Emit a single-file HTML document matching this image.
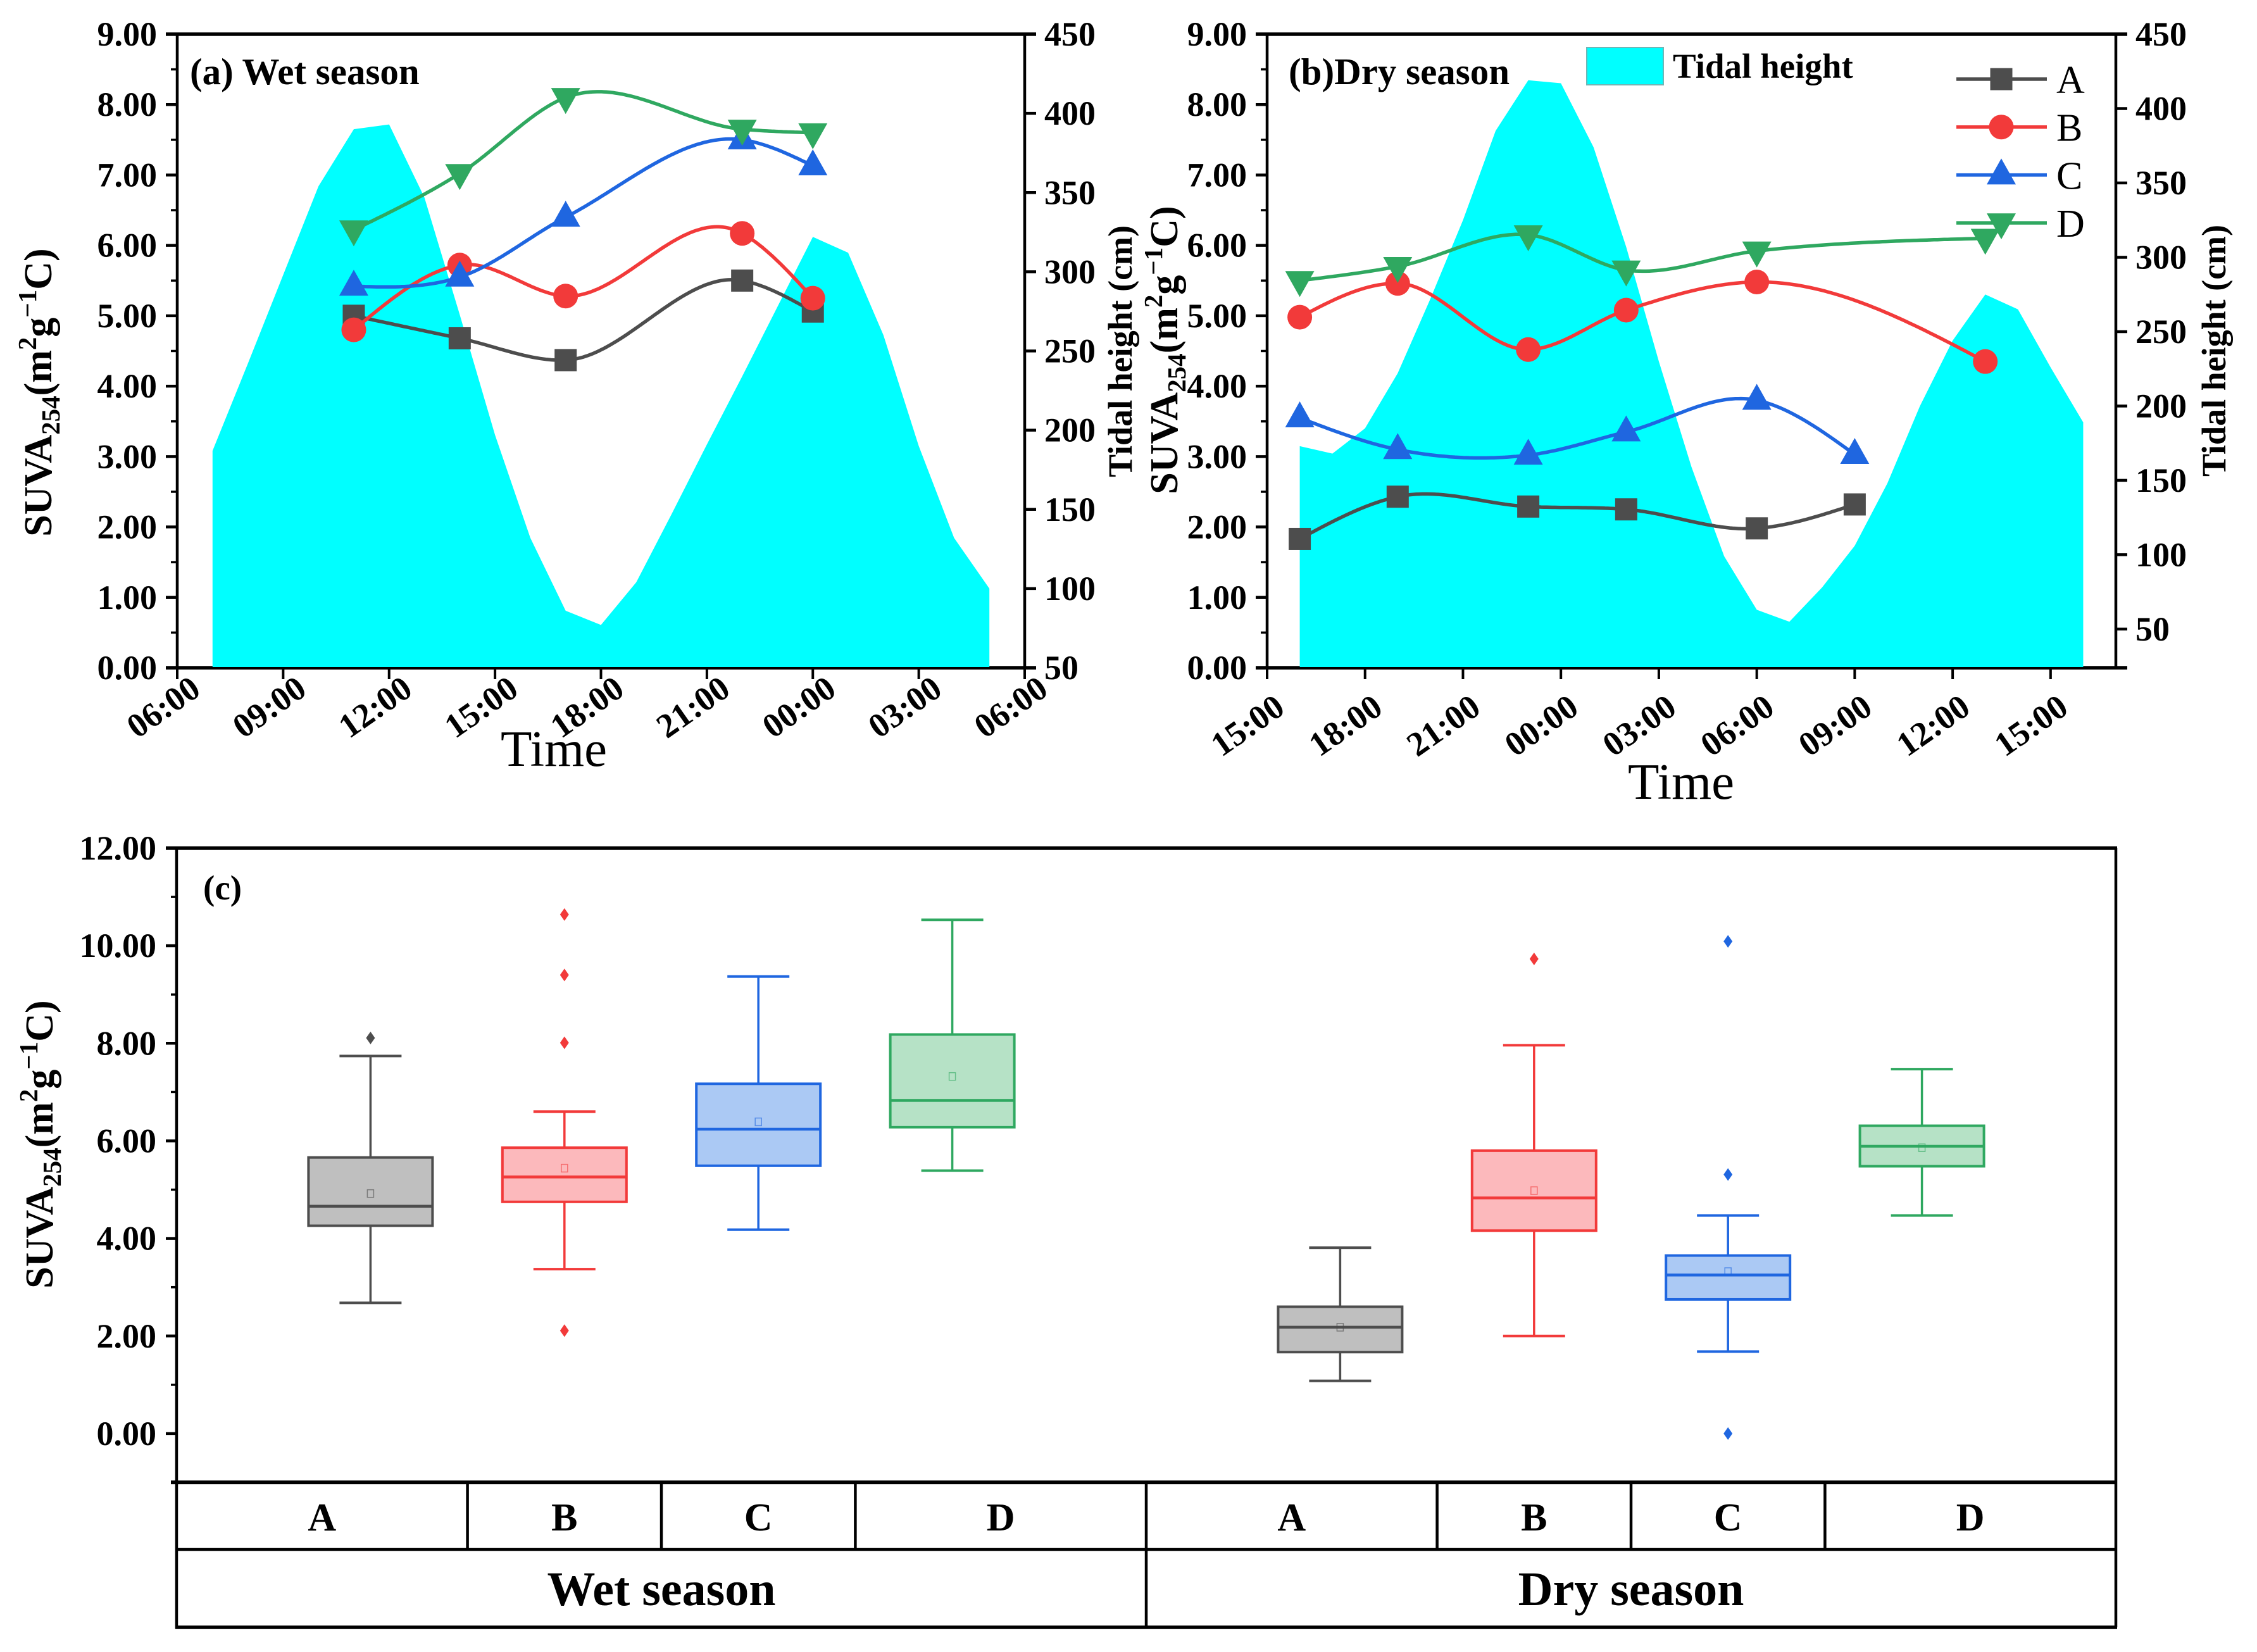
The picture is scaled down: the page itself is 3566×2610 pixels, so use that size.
<!DOCTYPE html>
<html lang="en">
<head>
<meta charset="utf-8">
<title>SUVA254 wet and dry season chart</title>
<style>
html,body{margin:0;padding:0;background:#fff;}
svg{display:block;}
text{font-family:"Liberation Serif",serif;fill:#000;}
.b{font-weight:bold;}
</style>
</head>
<body>
<svg id="fig" xmlns="http://www.w3.org/2000/svg" width="3566" height="2610" viewBox="0 0 3566 2610">
<rect x="0" y="0" width="3566" height="2610" fill="#fff"/>
<g id="panelA"></g>
<g id="panelB"></g>
<g id="panelC"></g>
<g id="labels">
<text class="b" x="300" y="133" font-size="59">(a) Wet season</text>
<text class="b" x="2036" y="133" font-size="59">(b)Dry season</text>
<text class="b" x="321" y="1421" font-size="55">(c)</text>
<text x="875" y="1210" font-size="81" text-anchor="middle">Time</text>
<text x="2656" y="1262" font-size="81" text-anchor="middle">Time</text>
<text class="b" font-size="62" text-anchor="middle" transform="translate(81,620) rotate(-90)">SUVA<tspan font-size="41" dy="13">254</tspan><tspan dy="-13">(m</tspan><tspan font-size="41" dy="-24">2</tspan><tspan dy="24">g</tspan><tspan font-size="41" dy="-24">−1</tspan><tspan dy="24">C)</tspan></text>
<text class="b" font-size="62" text-anchor="middle" transform="translate(1860,553) rotate(-90)">SUVA<tspan font-size="41" dy="13">254</tspan><tspan dy="-13">(m</tspan><tspan font-size="41" dy="-24">2</tspan><tspan dy="24">g</tspan><tspan font-size="41" dy="-24">−1</tspan><tspan dy="24">C)</tspan></text>
<text class="b" font-size="62" text-anchor="middle" transform="translate(83,1808) rotate(-90)">SUVA<tspan font-size="41" dy="13">254</tspan><tspan dy="-13">(m</tspan><tspan font-size="41" dy="-24">2</tspan><tspan dy="24">g</tspan><tspan font-size="41" dy="-24">−1</tspan><tspan dy="24">C)</tspan></text>
<text class="b" font-size="54" text-anchor="middle" transform="translate(1788,555) rotate(-90)">Tidal height (cm)</text>
<text class="b" font-size="54" text-anchor="middle" transform="translate(3516,554) rotate(-90)">Tidal height (cm)</text>
<rect x="2507" y="75" width="121" height="59" fill="#00ffff" stroke="#6fb6b6" stroke-width="2"/>
<text class="b" x="2643" y="123" font-size="55">Tidal height</text>
</g>
</svg>
<script>
// ---------- Panel (a) wet season data ----------
const wetTideHours = [7,8,9,10,11,12,13,14,15,16,17,18,19,20,21,22,23,24,25,26,27,28,29];
const wetTideCm = [187,242,298,354,390,393,347,273,197,132,86,77,104,147,191,234,278,322,312,260,190,132,100];
const wetHours = [11,14,17,22,24];
const wetA = [5.0,4.68,4.37,5.5,5.06];
const wetB = [4.8,5.72,5.28,6.17,5.25];
const wetC = [5.42,5.55,6.4,7.5,7.13];
const wetD = [6.22,7.02,8.1,7.65,7.6];
const wetXTicks = ["06:00","09:00","12:00","15:00","18:00","21:00","00:00","03:00","06:00"];
const wetRightTicks = ["50","100","150","200","250","300","350","400","450"];

// ---------- Panel (b) dry season data ----------
const dryTideHours = [16,17,18,19,20,21,22,23,24,25,26,27,28,29,30,31,32,33,34,35,36,37,38,39,40];
const dryTideCm = [173,168,185,222,272,325,385,419,417,374,307,230,159,99,63,55,78,106,148,200,244,275,265,226,189];
const dryHoursAC = [16,19,23,26,30,33];
const dryHoursBD = [16,19,23,26,30,37];
const dryA = [1.83,2.43,2.29,2.25,1.98,2.32];
const dryB = [4.98,5.46,4.52,5.08,5.48,4.35];
const dryC = [3.55,3.1,3.02,3.35,3.8,3.03];
const dryD = [5.5,5.7,6.15,5.65,5.92,6.1];
const dryXTicks = ["15:00","18:00","21:00","00:00","03:00","06:00","09:00","12:00","15:00"];
const dryRightTicks = ["50","100","150","200","250","300","350","400","450"];

const leftTicks = ["0.00","1.00","2.00","3.00","4.00","5.00","6.00","7.00","8.00","9.00"];

// ---------- Panel (c) box plot data ----------
const boxCategories = ["A","B","C","D","A","B","C","D"];
const boxPositions = [1,2,3,4,6,7,8,9];
const whiskerHigh = [7.74,6.6,9.37,10.53,3.81,7.96,4.47,7.47];
const boxQ3 = [5.66,5.86,7.17,8.18,2.6,5.8,3.65,6.31];
const boxMedian = [4.66,5.26,6.24,6.83,2.18,4.83,3.25,5.89];
const boxQ1 = [4.26,4.75,5.49,6.28,1.67,4.16,2.75,5.48];
const whiskerLow = [2.68,3.37,4.18,5.39,1.08,2.0,1.68,4.47];
const boxMean = [4.92,5.44,6.39,7.32,2.18,4.98,3.32,5.86];
const boxOutliers = [[8.11],[10.64,9.4,8.01,2.11],[],[],[],[9.73],[10.09,5.31,0.0],[]];
const boxYTicks = ["0.00","2.00","4.00","6.00","8.00","10.00","12.00"];

const seriesColors = ["#4d4d4d","#f23a3a","#1f66e0","#2fa860"];
const boxFills = ["#bfbfbf","#fcb9bc","#abc9f4","#b6e2c6"];
const seriesNames = ["A","B","C","D"];

const NS = "http://www.w3.org/2000/svg";
function make(tag, parent, attrs){
  const el = document.createElementNS(NS, tag);
  for (const k in attrs) el.setAttribute(k, attrs[k]);
  parent.appendChild(el);
  return el;
}
// smooth curve through the knots using three-point parabolic tangents
function smoothCurve(xs, ys){
  const n = xs.length, s = [], t = new Array(n);
  for (let i = 0; i < n-1; i++) s.push((ys[i+1]-ys[i])/(xs[i+1]-xs[i]));
  for (let i = 1; i < n-1; i++){
    const h0 = xs[i]-xs[i-1], h1 = xs[i+1]-xs[i];
    t[i] = (h1*s[i-1]+h0*s[i])/(h0+h1);
  }
  t[0] = (3*s[0]-t[1])/2;
  t[n-1] = (3*s[n-2]-t[n-2])/2;
  return function(x){
    let i = 0;
    while (i < n-2 && x > xs[i+1]) i++;
    const h = xs[i+1]-xs[i], u = (x-xs[i])/h;
    const u2 = u*u, u3 = u2*u;
    return (2*u3-3*u2+1)*ys[i]+(u3-2*u2+u)*h*t[i]+(-2*u3+3*u2)*ys[i+1]+(u3-u2)*h*t[i+1];
  };
}
function drawMarker(parent, kind, cx, cy, color){
  let el;
  if (kind === 0) el = make("rect", parent, {x:cx-17.5,y:cy-17.5,width:35,height:35,fill:color});
  else if (kind === 1) el = make("circle", parent, {cx:cx,cy:cy,r:19.5,fill:color});
  else if (kind === 2) el = make("polygon", parent, {points:(cx-23)+","+(cy+15)+" "+(cx+23)+","+(cy+15)+" "+cx+","+(cy-26),fill:color});
  else el = make("polygon", parent, {points:(cx-23)+","+(cy-15)+" "+(cx+23)+","+(cy-15)+" "+cx+","+(cy+26),fill:color});
  
  
  return el;
}
function drawLinePanel(parent, cfg){
  const L = cfg.left, R = cfg.right, T = 54, B = 1055;
  const x = h => L + (h - cfg.h0) * (R - L) / cfg.hSpan;
  const yLeft = v => B - v * (B - T) / 9;
  const yRight = v => B - (v - cfg.rMin) * (B - T) / (450 - cfg.rMin);

  // left axis ticks and labels
  leftTicks.forEach((lab, i) => {
    const v = parseFloat(lab);
    const tk = make("line", parent, {x1:L-18,x2:L,y1:yLeft(v),y2:yLeft(v),stroke:"#000","stroke-width":4.5});
    
    
    if (i < leftTicks.length-1){
      const mt = make("line", parent, {x1:L-10,x2:L,y1:yLeft(v+0.5),y2:yLeft(v+0.5),stroke:"#000","stroke-width":3.5});
      
      
    }
    const t = make("text", parent, {x:L-32,y:yLeft(v)+18,"font-size":54,"text-anchor":"end","class":"b"});
    t.textContent = lab;
    
    
  });
  // right axis ticks and labels
  cfg.rightTicks.forEach(lab => {
    const v = parseFloat(lab);
    const tk = make("line", parent, {x1:R,x2:R+18,y1:yRight(v),y2:yRight(v),stroke:"#000","stroke-width":4.5});
    
    
    const t = make("text", parent, {x:R+31,y:yRight(v)+18,"font-size":54,"class":"b"});
    t.textContent = lab;
    
    
  });
  // x axis ticks and labels
  cfg.xTicks.forEach((lab, i) => {
    const px = x(cfg.h0 + i*3);
    const tk = make("line", parent, {x1:px,x2:px,y1:B,y2:B+18,stroke:"#000","stroke-width":4});
    
    
    const cx = px + cfg.lx, cy = B + cfg.ly;
    const t = make("text", parent, {x:cx,y:cy+18,"font-size":54,"text-anchor":"middle","class":"b",transform:"rotate(-35 "+cx+" "+cy+")"});
    t.textContent = lab;
    
    
  });
  // axis frame
  const bottom = make("line", parent, {x1:L-18,x2:R+18,y1:B,y2:B,stroke:"#000","stroke-width":5.5});
  
  
  const top = make("line", parent, {x1:L-18,x2:R+18,y1:T,y2:T,stroke:"#000","stroke-width":5.5});
  
  
  const la = make("line", parent, {x1:L,x2:L,y1:T,y2:B,stroke:"#000","stroke-width":4.5});
  
  
  const ra = make("line", parent, {x1:R,x2:R,y1:T,y2:B,stroke:"#000","stroke-width":4.5});
  
  

  // tide area
  let d = "M" + x(cfg.tideHours[0]) + " " + (B-1);
  cfg.tideHours.forEach((h, i) => { d += "L" + x(h).toFixed(1) + " " + yRight(cfg.tideCm[i]).toFixed(1); });
  d += "L" + x(cfg.tideHours[cfg.tideHours.length-1]) + " " + (B-1) + "Z";
  const area = make("path", parent, {d:d,fill:"#00ffff"});
  
  

  // series lines and markers
  cfg.series.forEach((s, idx) => {
    const fn = smoothCurve(s.hours, s.values);
    const h0 = s.hours[0], h1 = s.hours[s.hours.length-1];
    let p = "";
    for (let k = 0; k <= 200; k++){
      const h = h0 + (h1-h0)*k/200;
      p += (k ? "L" : "M") + x(h).toFixed(1) + " " + yLeft(fn(h)).toFixed(1);
    }
    const path = make("path", parent, {d:p,fill:"none",stroke:seriesColors[idx],"stroke-width":5.5});
    
    
    s.hours.forEach((h, i) => drawMarker(parent, idx, x(h), yLeft(s.values[i]), seriesColors[idx]));
  });
}

drawLinePanel(document.getElementById("panelA"), {
  left:280, right:1619, h0:6, hSpan:24, rMin:50, lx:-22, ly:62,
  xTicks:wetXTicks, rightTicks:wetRightTicks, tideHours:wetTideHours, tideCm:wetTideCm,
  series:[{hours:wetHours,values:wetA},{hours:wetHours,values:wetB},{hours:wetHours,values:wetC},{hours:wetHours,values:wetD}]
});
drawLinePanel(document.getElementById("panelB"), {
  left:2002, right:3343, h0:15, hSpan:26, rMin:24, lx:-31, ly:91,
  xTicks:dryXTicks, rightTicks:dryRightTicks, tideHours:dryTideHours, tideCm:dryTideCm,
  series:[{hours:dryHoursAC,values:dryA},{hours:dryHoursBD,values:dryB},{hours:dryHoursAC,values:dryC},{hours:dryHoursBD,values:dryD}]
});

// legend for series (panel b)
(function(){
  const g = document.getElementById("panelB");
  seriesNames.forEach((nm, i) => {
    const ly = 125 + i*75.7;
    const ln = make("line", g, {x1:3091,x2:3234,y1:ly,y2:ly,stroke:seriesColors[i],"stroke-width":5.5});
    
    
    drawMarker(g, i, 3162, ly, seriesColors[i]);
    const t = make("text", g, {x:3249,y:ly+22,"font-size":62});
    t.textContent = nm;
    
    
  });
})();

// ---------- Panel (c) ----------
(function(){
  const g = document.getElementById("panelC");
  const L = 279, R = 3343, T = 1340, B = 2342;
  const x = p => L + p*(R-L)/10;
  const y = v => B - (v + 1)*(B-T)/13;

  boxYTicks.forEach((lab, i) => {
    const v = parseFloat(lab);
    const tk = make("line", g, {x1:L-17,x2:L,y1:y(v),y2:y(v),stroke:"#000","stroke-width":4.5});
    
    
    const mt = make("line", g, {x1:L-9,x2:L,y1:y(v-1),y2:y(v-1),stroke:"#000","stroke-width":3.5});
    
    
    const t = make("text", g, {x:L-32,y:y(v)+18,"font-size":54,"text-anchor":"end","class":"b"});
    t.textContent = lab;
    
    
  });

  // frame
  const top = make("line", g, {x1:L-17,x2:R+2,y1:T,y2:T,stroke:"#000","stroke-width":5.5});
  
  
  const right = make("line", g, {x1:R,x2:R,y1:T,y2:2571,stroke:"#000","stroke-width":4.5});
  
  
  const left = make("line", g, {x1:L,x2:L,y1:T,y2:2573,stroke:"#000","stroke-width":4.5});
  
  
  const base = make("line", g, {x1:L-9,x2:R+2,y1:B,y2:B,stroke:"#000","stroke-width":6});
  
  
  const row1 = make("line", g, {x1:L,x2:R+2,y1:2448,y2:2448,stroke:"#000","stroke-width":4.5});
  
  
  const row2 = make("line", g, {x1:L-2,x2:R+2,y1:2571,y2:2571,stroke:"#000","stroke-width":5.5});
  
  

  // category dividers are half-way between categories, season divider at position 5
  [1.5,2.5,3.5,6.5,7.5,8.5].forEach(p => {
    const dv = make("line", g, {x1:x(p),x2:x(p),y1:B,y2:2448,stroke:"#000","stroke-width":4.5});
    
    
  });
  const sd = make("line", g, {x1:x(5),x2:x(5),y1:B,y2:2571,stroke:"#000","stroke-width":4.5});
  
  

  // category labels
  const catSpans = [[0,1.5],[1.5,2.5],[2.5,3.5],[3.5,5],[5,6.5],[6.5,7.5],[7.5,8.5],[8.5,10]];
  boxCategories.forEach((c, i) => {
    const s = catSpans[i];
    const t = make("text", g, {x:x((s[0]+s[1])/2),y:2418,"font-size":62,"text-anchor":"middle","class":"b"});
    t.textContent = c;
    
    
  });
  const w = make("text", g, {x:x(2.5),y:2536,"font-size":76,"text-anchor":"middle","class":"b"});
  w.textContent = "Wet season";
  
  
  const dr = make("text", g, {x:x(7.5),y:2536,"font-size":76,"text-anchor":"middle","class":"b"});
  dr.textContent = "Dry season";
  
  

  // boxes
  const halfBox = 98, halfCap = 49;
  boxPositions.forEach((p, i) => {
    const cx = x(p), col = seriesColors[i%4], fill = boxFills[i%4];
    const wh = make("line", g, {x1:cx,x2:cx,y1:y(whiskerHigh[i]),y2:y(boxQ3[i]),stroke:col,"stroke-width":3.5});
    
    
    const wl = make("line", g, {x1:cx,x2:cx,y1:y(boxQ1[i]),y2:y(whiskerLow[i]),stroke:col,"stroke-width":3.5});
    
    
    const ch = make("line", g, {x1:cx-halfCap,x2:cx+halfCap,y1:y(whiskerHigh[i]),y2:y(whiskerHigh[i]),stroke:col,"stroke-width":4});
    
    
    const cl = make("line", g, {x1:cx-halfCap,x2:cx+halfCap,y1:y(whiskerLow[i]),y2:y(whiskerLow[i]),stroke:col,"stroke-width":4});
    
    
    const bx = make("rect", g, {x:cx-halfBox,y:y(boxQ3[i]),width:2*halfBox,height:y(boxQ1[i])-y(boxQ3[i]),fill:fill,stroke:col,"stroke-width":4});
    
    
    const md = make("line", g, {x1:cx-halfBox,x2:cx+halfBox,y1:y(boxMedian[i]),y2:y(boxMedian[i]),stroke:col,"stroke-width":4.5});
    
    
    const mn = make("rect", g, {x:cx-5,y:y(boxMean[i])-6,width:10,height:12,fill:"none",stroke:col,"stroke-width":1.5,opacity:0.6});
    
    
    boxOutliers[i].forEach(v => {
      const oy = y(v);
      const o = make("polygon", g, {points:cx+","+(oy-10)+" "+(cx+7)+","+oy+" "+cx+","+(oy+10)+" "+(cx-7)+","+oy,fill:col});
      
      
    });
  });
})();
</script>
</body>
</html>
